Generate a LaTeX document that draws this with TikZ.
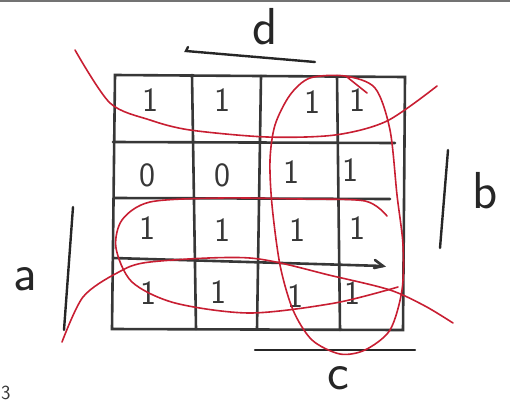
\documentclass[tikz,border=0pt]{standalone}
\usepackage{tikz}
\usetikzlibrary{positioning}

\definecolor{penred}{RGB}{200,30,50}
\definecolor{pengray}{RGB}{55,55,55}

\begin{document}
\begin{tikzpicture}[
    x=1pt, y=-1pt,
    gridline/.style={draw=pengray, line width=2.6pt, line cap=round},
    varbar/.style={draw=black!85, line width=2.4pt, line cap=round},
    redloop/.style={draw=penred, line width=1.6pt, line cap=round},
    digit/.style={inner sep=0pt, font=\sffamily\fontsize{34}{34}\selectfont, text=pengray},
    varlabel/.style={inner sep=0pt, font=\sffamily\fontsize{52}{52}\selectfont, text=black!85}
]
\useasboundingbox (0,0) rectangle (510,402);

% scanned page edge
\draw[draw=black!55, line width=2pt] (0,1) -- (510,1);

% map grid
\draw[gridline] (115,75) -- (405,77) -- (403,330) -- (112,329) -- cycle;
\draw[gridline] (192,75) -- (196,329);
\draw[gridline] (261,76) -- (257,329);
\draw[gridline] (337,76) -- (340,330);
\draw[gridline] (113,142) -- (395,143);
\draw[gridline] (115,198) -- (390,199);
\draw[gridline] (113,258) -- (383,266);
\draw[gridline] (375,260) -- (383,266) -- (374,268);

% cell values
\node[digit] (m11) at (150,100) {1};
\node[digit] (m12) at (222,100) {1};
\node[digit] (m13) at (312,102) {1};
\node[digit] (m14) at (357,100) {1};
\node[digit] (m21) at (147,175) {0};
\node[digit] (m22) at (222,175) {0};
\node[digit] (m23) at (291,172) {1};
\node[digit] (m24) at (350,170) {1};
\node[digit] (m31) at (147,228) {1};
\node[digit] (m32) at (222,230) {1};
\node[digit] (m33) at (297,230) {1};
\node[digit] (m34) at (357,228) {1};
\node[digit] (m41) at (148,293) {1};
\node[digit] (m42) at (218,292) {1};
\node[digit] (m43) at (295,296) {1};
\node[digit] (m44) at (352,293) {1};

% variable labels
\node[varlabel] (lbld) at (265,27) {d};
\node[varlabel] (lblb) at (485,191) {b};
\node[varlabel] (lbla) at (25,279) {a};
\node[varlabel] (lblc) at (338,378) {c};
\node[digit, font=\sffamily\fontsize{20}{20}\selectfont, anchor=south west] (pgnum) at (1,400) {3};

\draw[varbar] (188,47) -- (186,51) -- (315,62);
\draw[varbar] (448,150) -- (440,248);
\draw[varbar] (73,207) -- (64,330);
\draw[varbar] (255,350) -- (415,350);

% groupings
\draw[redloop] plot[smooth] coordinates {(75,50) (110,103) (150,120) (190,130) (267,137) (335,135) (387,121) (437,86)};
\draw[redloop] plot[smooth cycle] coordinates {(345,76) (375,88) (390,130) (397,195) (403,245) (402,290) (390,330) (365,350) (340,354) (312,340) (293,310) (280,265) (272,205) (270,160) (275,125) (290,95) (310,78)};
\draw[redloop] (347,77) -- (367,93);
\draw[redloop] plot[smooth] coordinates {(387,216) (365,201) (300,199) (220,198) (150,202) (122,220) (116,248) (132,282) (175,303) (250,313) (335,303) (398,287)};
\draw[redloop] plot[smooth] coordinates {(62,342) (83,297) (117,273) (150,262) (250,258) (333,276) (390,290) (425,306) (453,323)};

\end{tikzpicture}
\end{document}
